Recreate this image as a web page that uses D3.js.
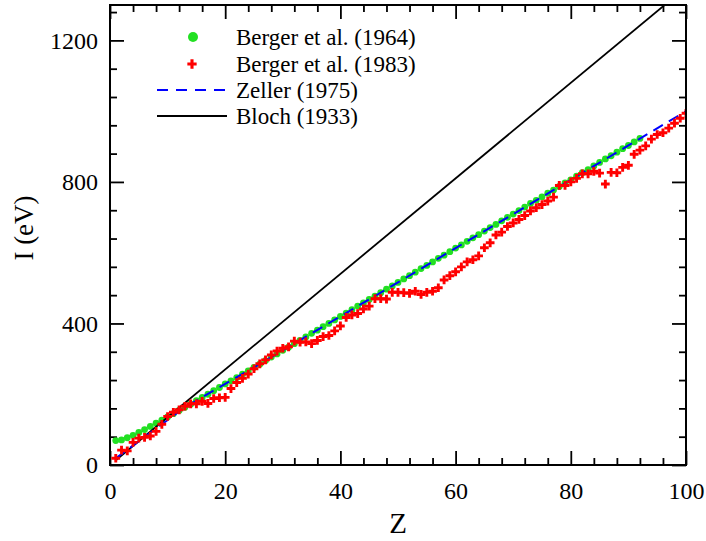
<!DOCTYPE html>
<html>
<head>
<meta charset="utf-8">
<script src="https://cdn.jsdelivr.net/npm/d3@7"></script>
<style>
body{margin:0;background:#fff;}
svg text{font-family:"Liberation Serif","Tinos","Times New Roman","DejaVu Serif",serif !important;fill:#000;}
</style>
</head>
<body>
<div class="container"></div>
<script>
// Berger et al. (1964), Z = 1..92
var z64 = d3.range(1, 93);
var i64 = [69,71,77,84,92,100,109,118,127,136,145,154,163,172,182,191,200,210,219,229,
           238,247,257,266,276,285,295,305,314,324,333,343,352,362,372,381,391,400,410,420,
           429,439,449,458,468,477,487,497,506,516,526,535,545,555,564,574,584,593,603,613,
           622,632,642,651,661,671,680,690,700,709,719,729,739,748,758,768,777,787,797,806,
           816,826,835,845,855,865,874,884,894,903,913,923];
// Berger et al. (1983), Z = 1..100
var z83 = d3.range(1, 101);
var i83 = [19,42,40,64,76,78,82,95,115,137,149,156,166,173,173,180,174,188,190,191,
           216,233,245,257,272,286,297,311,322,330,334,350,347,348,343,352,363,366,379,393,
           417,424,428,441,449,470,470,469,488,488,487,485,491,482,488,491,501,523,535,546,
           560,574,580,591,614,628,650,658,674,684,694,705,718,727,736,746,757,790,790,800,
           810,823,823,830,825,794,827,826,841,847,878,890,902,921,934,939,952,966,980,994];
// Zeller (1975)
var zZel = [1,3,5,7,9,11,13,15,20,25,30,40,50,60,70,80,90,100];
var iZel = [19,43,67,91,115,139,163,182,229,276,324,420,516,613,709,806,903,1000];
// Bloch (1933)
var zBl = [1,100];
var iBl = [13.5,1350];

var xTicks = [0,20,40,60,80,100];
var yTicks = [0,400,800,1200];
var legendNames = ["Berger et al. (1964)","Berger et al. (1983)","Zeller (1975)","Bloch (1933)"];

var FONT='"Liberation Serif","Tinos","Times New Roman","DejaVu Serif",serif';
var width=706, height=541;
var margin={left:110,right:20,top:5,bottom:76};
var w=width-margin.left-margin.right, h=height-margin.top-margin.bottom;

var svg=d3.select(".container").append("svg").attr("width",width).attr("height",height)
          .attr("font-family",FONT);
var g=svg.append("g").attr("transform","translate("+margin.left+","+margin.top+")");

var x=d3.scaleLinear().domain([0,100]).range([0,w]);
var y=d3.scaleLinear().domain([0,1300]).range([h,0]);

var xMinor=d3.range(0,101,4).filter(function(d){return d%20!=0;});
var yMinor=d3.range(0,1301,80).filter(function(d){return d%400!=0;});

svg.append("defs").append("clipPath").attr("id","clip")
   .append("rect").attr("width",w).attr("height",h);

function styleAxis(sel){
    sel.attr("font-family",FONT);
    sel.select(".domain").remove();
    sel.selectAll(".tick line").attr("stroke","#000").attr("stroke-width",1.8);
    sel.selectAll("text").attr("font-size","24px");
}
// bottom
g.append("g").attr("transform","translate(0,"+h+")")
 .call(d3.axisBottom(x).tickValues(xTicks).tickFormat(d3.format("d")).tickSizeInner(-14).tickSizeOuter(0).tickPadding(17))
 .call(styleAxis);
g.append("g").attr("transform","translate(0,"+h+")")
 .call(d3.axisBottom(x).tickValues(xMinor).tickFormat("").tickSizeInner(-7).tickSizeOuter(0))
 .call(styleAxis);
// top
g.append("g").call(d3.axisTop(x).tickValues(xTicks).tickFormat("").tickSizeInner(-14).tickSizeOuter(0)).call(styleAxis);
g.append("g").call(d3.axisTop(x).tickValues(xMinor).tickFormat("").tickSizeInner(-7).tickSizeOuter(0)).call(styleAxis);
// left
g.append("g")
 .call(d3.axisLeft(y).tickValues(yTicks).tickFormat(d3.format("d")).tickSizeInner(-14).tickSizeOuter(0).tickPadding(12))
 .call(styleAxis);
g.append("g").call(d3.axisLeft(y).tickValues(yMinor).tickFormat("").tickSizeInner(-7).tickSizeOuter(0)).call(styleAxis);
// right
g.append("g").attr("transform","translate("+w+",0)")
 .call(d3.axisRight(y).tickValues(yTicks).tickFormat("").tickSizeInner(-14).tickSizeOuter(0)).call(styleAxis);
g.append("g").attr("transform","translate("+w+",0)")
 .call(d3.axisRight(y).tickValues(yMinor).tickFormat("").tickSizeInner(-7).tickSizeOuter(0)).call(styleAxis);

var plot=g.append("g").attr("clip-path","url(#clip)");
var line=d3.line().x(function(d){return x(d[0]);}).y(function(d){return y(d[1]);});

// green dots
plot.selectAll("circle.b64").data(z64).enter().append("circle")
    .attr("class","b64")
    .attr("cx",function(d){return x(d);})
    .attr("cy",function(d,i){return y(i64[i]);})
    .attr("r",3.4)
    .attr("fill","#22e022");

// Bloch
plot.append("path").datum(d3.zip(zBl,iBl)).attr("d",line)
    .attr("fill","none").attr("stroke","#000").attr("stroke-width",1.8);
// Zeller
plot.append("path").datum(d3.zip(zZel,iZel)).attr("d",line)
    .attr("fill","none").attr("stroke","#0000ff").attr("stroke-width",2).attr("stroke-dasharray","11,7");

// red crosses
var cross=d3.symbol().type(d3.symbolCross).size(42);
plot.selectAll("path.b83").data(z83).enter().append("path")
    .attr("class","b83")
    .attr("d",cross)
    .attr("transform",function(d,i){return "translate("+x(d)+","+y(i83[i])+")";})
    .attr("fill","#ff0000");

// frame
g.append("rect").attr("width",w).attr("height",h)
 .attr("fill","none").attr("stroke","#000").attr("stroke-width",2);

// axis titles
svg.append("text").attr("x",398).attr("y",533).attr("text-anchor","middle")
   .attr("font-size","29px").text("Z");
svg.append("text").attr("transform","translate(33,228) rotate(-90)").attr("text-anchor","middle")
   .attr("font-size","27px").text("I (eV)");

// legend
var leg=svg.append("g");
var rowY=[37,64,90,116];
leg.append("circle").attr("cx",193).attr("cy",rowY[0]).attr("r",5).attr("fill","#22e022");
leg.append("path").attr("d",d3.symbol().type(d3.symbolCross).size(48))
   .attr("transform","translate(192,"+rowY[1]+")").attr("fill","#ff0000");
leg.append("line").attr("x1",157).attr("x2",227).attr("y1",rowY[2]).attr("y2",rowY[2])
   .attr("stroke","#0000ff").attr("stroke-width",2).attr("stroke-dasharray","11,8");
leg.append("line").attr("x1",157).attr("x2",227).attr("y1",rowY[3]).attr("y2",rowY[3])
   .attr("stroke","#000").attr("stroke-width",2);
leg.selectAll("text").data(legendNames).enter().append("text")
   .attr("x",236).attr("y",function(d,i){return rowY[i]+8;})
   .attr("font-size","23px").text(function(d){return d;});
</script>
</body>
</html>
